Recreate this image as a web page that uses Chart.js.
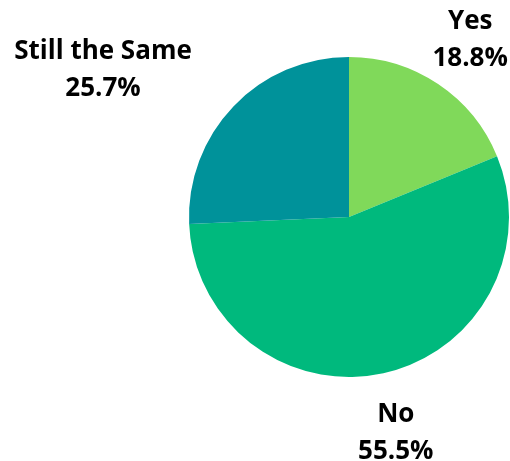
<!DOCTYPE html>
<html>
<head>
<meta charset="utf-8">
<script src="https://cdn.jsdelivr.net/npm/chart.js@4/dist/chart.umd.min.js"></script>
<style>
  html, body { margin: 0; padding: 0; background: #ffffff; }
  #wrap { width: 510px; height: 461px; position: relative; }
</style>
</head>
<body>
<div id="wrap"><canvas id="pie"></canvas></div>
<script>
// Survey answers and their shares (percent)
const categories = ['Yes', 'No', 'Still the Same'];
const shares = [18.8, 55.5, 25.7];
const sliceColors = ['#80D95A', '#00B97D', '#00929A'];

// Draws each slice's name and percentage outside the pie
const outsideLabels = {
  id: 'outsideLabels',
  afterDatasetsDraw(chart) {
    const ctx = chart.ctx;
    const meta = chart.getDatasetMeta(0);
    const fontSize = 26;
    const capH = fontSize * 0.714;
    const lineGap = 37;
    ctx.save();
    ctx.font = 'bold ' + fontSize + 'px "Open Sans", sans-serif';
    ctx.fillStyle = '#000000';
    ctx.textBaseline = 'alphabetic';
    ctx.textAlign = 'center';
    meta.data.forEach((arc, i) => {
      const mid = (arc.startAngle + arc.endAngle) / 2;
      const dist = arc.outerRadius * 1.36;
      let px = arc.x + Math.cos(mid) * dist;
      const py = arc.y + Math.sin(mid) * dist + 2;
      const lines = [categories[i], shares[i].toFixed(1) + '%'];
      const w = Math.max(...lines.map(t => ctx.measureText(t).width));
      const c = Math.cos(mid);
      if (c < -0.7) px -= w / 2;
      else if (c > 0.7) px += w / 2;
      const blockH = lineGap + capH;
      const base = py - blockH / 2 + capH;
      lines.forEach((t, k) => ctx.fillText(t, px, base + k * lineGap));
    });
    ctx.restore();
  }
};

new Chart(document.getElementById('pie'), {
  type: 'pie',
  data: {
    labels: categories,
    datasets: [{
      data: shares,
      backgroundColor: sliceColors,
      borderWidth: 0
    }]
  },
  options: {
    responsive: true,
    maintainAspectRatio: false,
    animation: false,
    layout: { padding: { left: 189, right: 1, top: 57, bottom: 84 } },
    plugins: {
      legend: { display: false },
      tooltip: { enabled: false }
    }
  },
  plugins: [outsideLabels]
});
</script>
</body>
</html>
